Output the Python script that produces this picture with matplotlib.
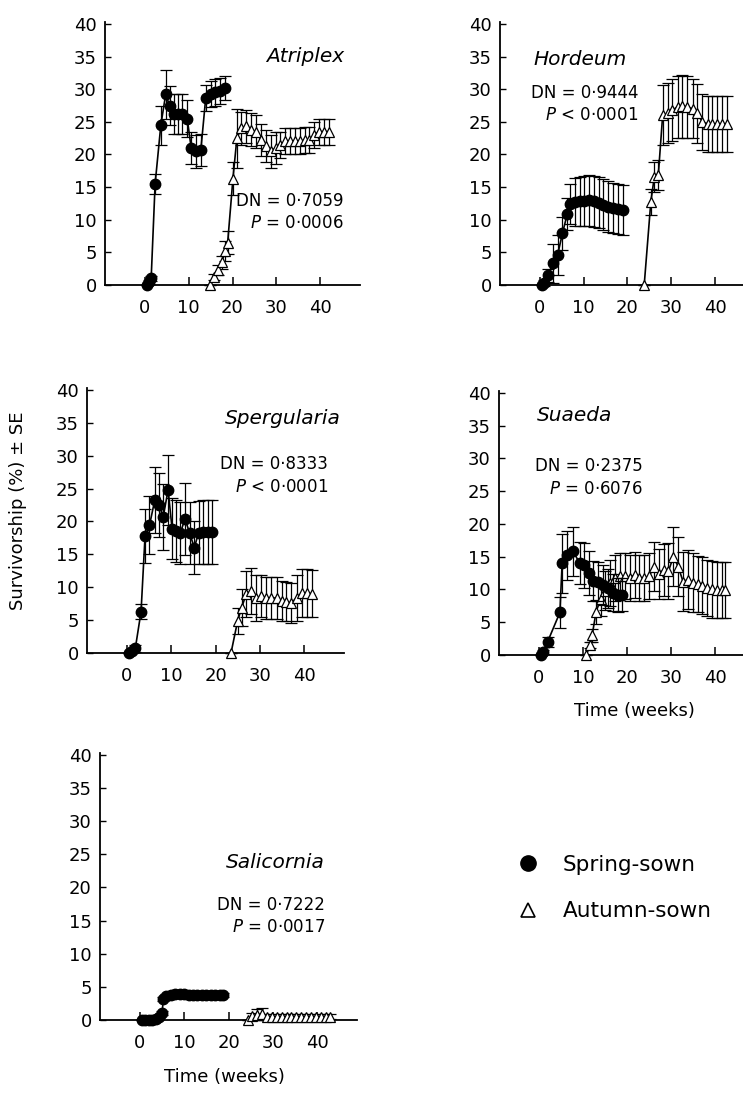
#!/usr/bin/env python3
"""Survivorship of spring- and autumn-sown seedlings, five species."""

import matplotlib
matplotlib.use("Agg")
import matplotlib.pyplot as plt  # noqa: E402
from matplotlib.lines import Line2D  # noqa: E402

# ---- data (weeks, survivorship %, SE) ----
atr_spring_x = [0.5, 1.0, 1.5, 2.4, 3.7, 4.8, 5.7, 6.6, 7.6, 8.6, 9.7, 10.6, 11.7, 12.8, 13.9, 15.0, 16.1, 17.2, 18.3]
atr_spring_y = [0, 0.5, 1.0, 15.5, 24.5, 29.2, 27.5, 26.2, 26.2, 26.2, 25.5, 21.0, 20.5, 20.7, 28.6, 29.3, 29.5, 29.7, 30.2]
atr_spring_se = [0, 0.3, 0.4, 1.5, 3.0, 3.8, 3.0, 3.0, 3.0, 3.0, 2.8, 2.5, 2.5, 2.5, 2.0, 2.0, 2.0, 2.0, 1.8]
atr_autumn_x = [14.8, 15.8, 16.7, 17.5, 18.4, 18.9, 20.1, 21.0, 22.0, 23.1, 24.2, 25.3, 26.5, 27.6, 28.7, 29.8,
                30.9, 32.0, 33.1, 34.2, 35.3, 36.4, 37.5, 38.6, 39.7, 40.8, 41.9]
atr_autumn_y = [0, 1.2, 2.3, 3.5, 5.2, 6.5, 16.3, 22.5, 24.0, 24.3, 23.8, 23.5, 22.2, 21.3, 20.5, 21.0,
                21.5, 22.0, 22.0, 22.0, 22.0, 22.2, 22.2, 23.0, 23.5, 23.5, 23.5]
atr_autumn_se = [0, 0.5, 0.7, 1.0, 1.5, 1.8, 2.5, 4.5, 2.5, 2.5, 2.5, 2.5, 2.5, 2.5, 2.5, 2.5,
                 2.0, 2.0, 2.0, 2.0, 2.0, 2.0, 2.0, 2.0, 2.0, 2.0, 2.0]

hor_spring_x = [0.5, 1.1, 1.9, 3.0, 4.1, 5.2, 6.3, 7.0, 8.1, 9.1, 10.2, 11.3, 12.4, 13.5, 14.5, 15.6, 16.7, 17.8, 18.9]
hor_spring_y = [0, 0.3, 1.5, 3.3, 4.6, 7.9, 10.9, 12.4, 12.7, 12.8, 12.9, 13.0, 12.8, 12.6, 12.3, 12.0, 11.8, 11.6, 11.5]
hor_spring_se = [0, 0.5, 1.0, 3.0, 3.0, 2.5, 2.5, 3.0, 3.7, 3.8, 3.8, 3.9, 3.9, 3.9, 3.9, 3.9, 3.8, 3.8, 3.8]
hor_autumn_x = [23.8, 25.3, 26.1, 27.0, 28.0, 29.1, 30.2, 31.4, 32.5, 33.6, 34.8, 35.9, 37.0, 38.2, 39.3, 40.4, 41.5, 42.6]
hor_autumn_y = [0, 12.7, 16.6, 16.8, 26.0, 26.3, 26.8, 27.3, 27.4, 27.3, 27.0, 26.3, 25.0, 24.7, 24.7, 24.7, 24.7, 24.7]
hor_autumn_se = [0, 2.0, 2.3, 2.3, 4.6, 4.6, 4.8, 4.8, 4.8, 4.8, 4.5, 4.5, 4.3, 4.3, 4.3, 4.3, 4.3, 4.3]

spe_spring_x = [0.5, 1.2, 1.9, 3.2, 4.1, 5.1, 6.3, 7.3, 8.2, 9.3, 10.2, 11.1, 12.1, 13.1, 14.2, 15.2, 16.2, 17.2, 18.3, 19.3]
spe_spring_y = [0, 0.3, 0.7, 6.3, 17.8, 19.4, 23.3, 22.5, 20.7, 24.8, 18.9, 18.6, 18.3, 20.4, 18.2, 16.0, 18.3, 18.4, 18.4, 18.4]
spe_spring_se = [0, 0.3, 0.5, 1.1, 4.1, 4.4, 5.0, 4.8, 5.0, 5.3, 4.6, 4.7, 4.7, 5.5, 4.7, 4.0, 4.8, 4.8, 4.9, 4.9]
spe_autumn_x = [23.5, 25.0, 25.9, 26.9, 28.0, 29.2, 30.3, 31.5, 32.6, 33.8, 34.9, 36.0, 37.1, 38.3, 39.5, 40.7, 41.8]
spe_autumn_y = [0, 4.9, 6.9, 8.9, 9.4, 8.3, 8.6, 8.4, 8.3, 8.4, 7.9, 7.8, 7.6, 8.4, 9.1, 9.1, 9.0]
spe_autumn_se = [0, 2.0, 2.8, 3.5, 3.5, 3.5, 3.2, 3.2, 3.2, 3.2, 3.0, 3.0, 3.0, 3.5, 3.6, 3.6, 3.6]

sua_spring_x = [0.5, 1.0, 2.0, 4.8, 5.3, 6.5, 7.8, 9.3, 10.3, 11.3, 12.4, 13.5, 14.6, 15.7, 16.8, 17.9, 18.8]
sua_spring_y = [0, 0.5, 2.0, 6.5, 14.0, 15.2, 15.8, 14.0, 13.7, 12.5, 11.3, 11.2, 10.7, 10.2, 9.5, 9.2, 9.2]
sua_spring_se = [0, 0.3, 0.8, 2.4, 4.5, 3.8, 3.8, 3.2, 3.4, 3.3, 3.0, 3.0, 3.0, 3.0, 2.8, 2.6, 2.5]
sua_autumn_x = [10.8, 11.6, 12.1, 13.0, 14.0, 15.1, 16.2, 17.3, 18.4, 19.5, 20.6, 21.7, 22.8, 23.9, 25.0, 26.1,
                27.2, 28.3, 29.4, 30.5, 31.6, 32.7, 33.8, 34.9, 36.0, 37.1, 38.2, 39.3, 40.4, 41.5, 42.3]
sua_autumn_y = [0, 1.5, 3.0, 6.6, 8.5, 9.8, 11.0, 11.8, 12.0, 12.0, 11.8, 12.2, 11.8, 11.8, 12.0, 13.5,
                12.4, 13.0, 12.8, 15.0, 13.5, 11.2, 11.5, 11.0, 10.8, 10.6, 10.2, 10.0, 9.9, 9.9, 9.9]
sua_autumn_se = [0, 0.5, 1.0, 1.8, 2.5, 3.0, 3.5, 3.5, 3.5, 3.5, 3.5, 3.5, 3.5, 3.5, 3.5, 3.8,
                 3.8, 4.0, 4.3, 4.5, 4.5, 4.5, 4.5, 4.5, 4.3, 4.3, 4.3, 4.3, 4.3, 4.3, 4.3]

sal_spring_x = [0.5, 1.2, 2.0, 2.8, 3.6, 4.4, 5.0, 5.3, 6.0, 7.0, 8.0, 9.0, 10.0, 11.0, 12.0, 13.0, 14.0,
                15.0, 16.0, 17.0, 18.0, 18.8]
sal_spring_y = [0, 0, 0, 0, 0.2, 0.5, 1.0, 3.2, 3.6, 3.8, 3.9, 3.9, 3.9, 3.8, 3.8, 3.8, 3.8, 3.8, 3.8, 3.8, 3.7, 3.7]
sal_spring_se = [0, 0, 0, 0, 0.1, 0.2, 0.3, 0.3, 0.3, 0.3, 0.3, 0.3, 0.3, 0.3, 0.3, 0.3, 0.3, 0.3, 0.3, 0.3, 0.3, 0.3]
sal_autumn_x = [24.3, 25.4, 26.5, 27.6, 28.7, 29.8, 30.9, 32.0, 33.1, 34.2, 35.3, 36.4, 37.5, 38.6, 39.7, 40.8, 41.9, 43.0]
sal_autumn_y = [0, 0.6, 0.8, 0.9, 0.5, 0.5, 0.5, 0.5, 0.5, 0.5, 0.5, 0.5, 0.5, 0.5, 0.5, 0.5, 0.5, 0.5]
sal_autumn_se = [0, 0.4, 0.8, 0.9, 0.4, 0.4, 0.4, 0.4, 0.4, 0.4, 0.4, 0.4, 0.4, 0.4, 0.4, 0.4, 0.4, 0.4]

x_ticks = [0, 10, 20, 30, 40]
y_ticks = [0, 5, 10, 15, 20, 25, 30, 35, 40]

plt.rcParams["font.family"] = ["DejaVu Sans"]

W, H = 743, 1093
fig = plt.figure(figsize=(W / 100, H / 100), dpi=100)


def px_axes(left, top, right, bottom):
    """Axes from pixel edges of the reference image."""
    return fig.add_axes([left / W, 1 - bottom / H, (right - left) / W, (bottom - top) / H])


def draw_panel(ax, spring, autumn, name, dn, p, name_xy, stat_xy, ha):
    sx, sy, se = spring
    ax_, ay, ae = autumn
    ax.errorbar(ax_, ay, yerr=ae, color="k", lw=1.2, marker="^", ms=6.5, mfc="white", mec="k",
                mew=0.9, elinewidth=0.9, capsize=4, capthick=0.9, clip_on=False, zorder=3)
    ax.errorbar(sx, sy, yerr=se, color="k", lw=1.2, marker="o", ms=7.5, mfc="k", mec="k",
                elinewidth=0.9, capsize=4, capthick=0.9, clip_on=False, zorder=4)

    ax.set_xlim(-9, 49)
    ax.set_ylim(0, 40.3)
    ax.set_xticks(x_ticks)
    ax.set_yticks(y_ticks)
    for s in ("top", "right"):
        ax.spines[s].set_visible(False)
    for s in ("left", "bottom"):
        ax.spines[s].set_linewidth(1.3)
    ax.spines["left"].set_bounds(0, 40.3)
    ax.tick_params(axis="x", direction="in", length=6, width=1.1, pad=10, labelsize=13)
    ax.tick_params(axis="y", direction="in", length=4, width=1.0, pad=6, labelsize=13)

    ax.text(name_xy[0], name_xy[1], name, style="italic", fontsize=14.5, ha=ha, va="center")
    ax.text(stat_xy[0], stat_xy[1], "DN = " + dn, fontsize=12, ha="right", va="center")
    ax.text(stat_xy[0], stat_xy[1] - 3.4, "$\\it{P}$ " + p, fontsize=12, ha="right", va="center")


ax1 = px_axes(105, 22, 360, 285)
draw_panel(ax1, (atr_spring_x, atr_spring_y, atr_spring_se), (atr_autumn_x, atr_autumn_y, atr_autumn_se),
           "Atriplex", "0·7059", "= 0·0006", (45.5, 35), (45.2, 12.9), "right")

ax2 = px_axes(500, 22, 755, 285)
draw_panel(ax2, (hor_spring_x, hor_spring_y, hor_spring_se), (hor_autumn_x, hor_autumn_y, hor_autumn_se),
           "Hordeum", "0·9444", "< 0·0001", (-1.4, 34.5), (22.5, 29.4), "left")

ax3 = px_axes(87, 388, 344, 653)
draw_panel(ax3, (spe_spring_x, spe_spring_y, spe_spring_se), (spe_autumn_x, spe_autumn_y, spe_autumn_se),
           "Spergularia", "0·8333", "< 0·0001", (48.3, 35.6), (45.4, 28.7), "right")

ax4 = px_axes(499, 391, 755, 655)
draw_panel(ax4, (sua_spring_x, sua_spring_y, sua_spring_se), (sua_autumn_x, sua_autumn_y, sua_autumn_se),
           "Suaeda", "0·2375", "= 0·6076", (-0.4, 36.6), (23.5, 28.8), "left")

ax5 = px_axes(100, 753, 357, 1020)
draw_panel(ax5, (sal_spring_x, sal_spring_y, sal_spring_se), (sal_autumn_x, sal_autumn_y, sal_autumn_se),
           "Salicornia", "0·7222", "= 0·0017", (41.8, 23.7), (41.8, 17.4), "right")

fig.text(18 / W, 1 - 511 / H, "Survivorship (%) ± SE", rotation=90, fontsize=13, ha="center", va="center")
fig.text(634 / W, 1 - 711 / H, "Time (weeks)", fontsize=13, ha="center", va="center")
fig.text(224 / W, 1 - 1077 / H, "Time (weeks)", fontsize=13, ha="center", va="center")

handles = [Line2D([], [], ls="none", marker="o", ms=11, mfc="k", mec="k"),
           Line2D([], [], ls="none", marker="^", ms=10, mfc="white", mec="k", mew=1.2)]
fig.legend(handles, ["Spring-sown", "Autumn-sown"], loc="center left", bbox_to_anchor=(496 / W, 1 - 888 / H),
           frameon=False, fontsize=15.5, handlelength=1.2, handletextpad=1.0, labelspacing=1.25)

fig.savefig("out.png", dpi=100)
